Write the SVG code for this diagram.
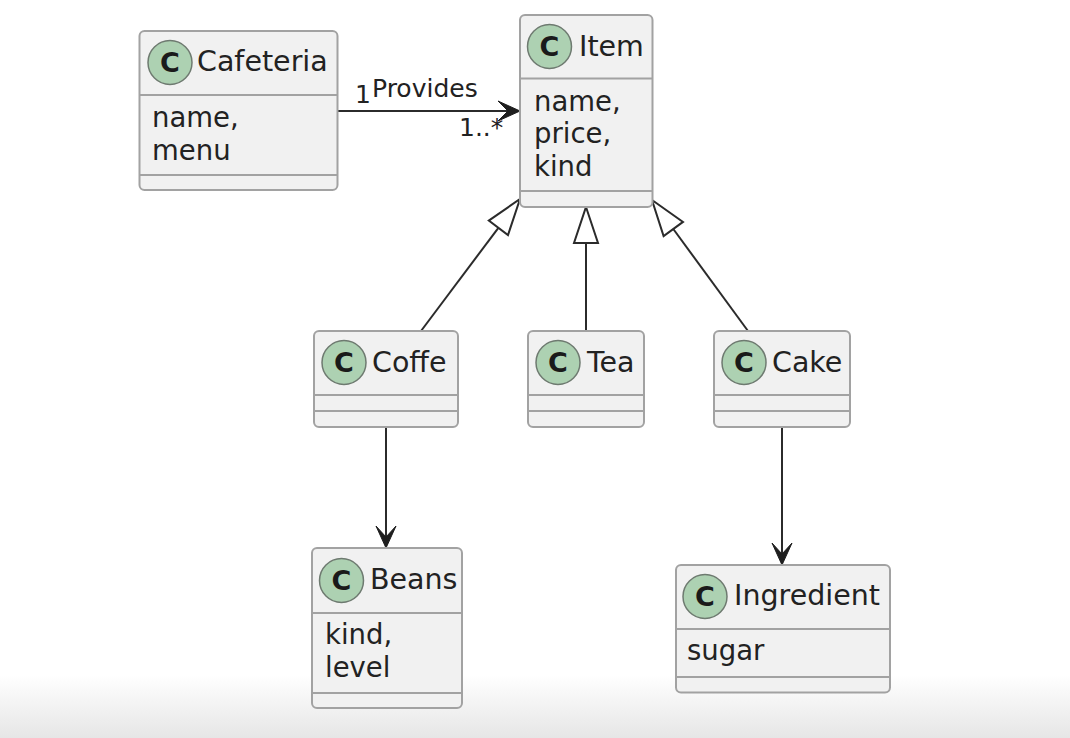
<svg xmlns="http://www.w3.org/2000/svg" width="1070" height="738" viewBox="0 0 1070 738">
<defs>
<linearGradient id="fade" x1="0" y1="0" x2="0" y2="1">
<stop offset="0" stop-color="#ffffff"/>
<stop offset="1" stop-color="#e6e6e6"/>
</linearGradient>
<style>
.box{fill:#f1f1f1;stroke:#a2a2a2;stroke-width:2}
.div{stroke:#a2a2a2;stroke-width:2}
.spot{fill:#add1b2;stroke:#6e7a70;stroke-width:1.5}
.spotc{font-family:"DejaVu Sans",sans-serif;font-size:27px;font-weight:bold;fill:#1a1a1a;text-anchor:middle}
.name{font-family:"DejaVu Sans",sans-serif;font-size:28.5px;fill:#222222}
.attr{font-family:"DejaVu Sans",sans-serif;font-size:27.5px;fill:#222222}
.lbl{font-family:"DejaVu Sans",sans-serif;font-size:25px;fill:#222222}
.edge{stroke:#2b2b2b;stroke-width:2;fill:none}
.head{fill:#1e1e1e;stroke:#1e1e1e;stroke-width:1}
.tri{fill:#ffffff;stroke:#2b2b2b;stroke-width:2}
</style>
</defs>
<rect x="0" y="0" width="1070" height="738" fill="#ffffff"/>
<rect x="0" y="675" width="1070" height="63" fill="url(#fade)"/>

<g id="connectors">
<line class="edge" x1="338" y1="111" x2="516" y2="111"/>
<polygon class="head" points="520,111 498,101 508,111 498,121"/>
<text class="lbl" x="355" y="103">1</text>
<text class="lbl" x="372" y="97">Provides</text>
<text class="lbl" x="459" y="136" font-size="23">1..*</text>

<line class="edge" x1="421" y1="331" x2="498.4" y2="227.8"/>
<polygon class="tri" points="520,199 508,235 488.8,220.6"/>
<line class="edge" x1="586" y1="331" x2="586" y2="243"/>
<polygon class="tri" points="586,207 598,243 574,243"/>
<line class="edge" x1="748" y1="331" x2="673.3" y2="229"/>
<polygon class="tri" points="652,200 683,221.9 663.6,236.1"/>

<line class="edge" x1="386" y1="427" x2="386" y2="544"/>
<polygon class="head" points="386,548 376,526 386,537 396,526"/>
<line class="edge" x1="782" y1="427" x2="782" y2="561"/>
<polygon class="head" points="782,565 772,543 782,554 792,543"/>
</g>

<g id="Cafeteria">
<rect class="box" x="139.5" y="31" width="198" height="159" rx="5"/>
<line class="div" x1="139.5" y1="95" x2="337.5" y2="95"/>
<line class="div" x1="139.5" y1="175" x2="337.5" y2="175"/>
<circle class="spot" cx="170" cy="62.5" r="22"/>
<text class="spotc" x="170" y="72">C</text>
<text class="name" x="197" y="71">Cafeteria</text>
<text class="attr" x="152" y="127">name,</text>
<text class="attr" x="152" y="160">menu</text>
</g>

<g id="Item">
<rect class="box" x="520" y="15" width="132.5" height="192" rx="5"/>
<line class="div" x1="520" y1="78.5" x2="652.5" y2="78.5"/>
<line class="div" x1="520" y1="191" x2="652.5" y2="191"/>
<circle class="spot" cx="549.5" cy="46.5" r="22"/>
<text class="spotc" x="549.5" y="56">C</text>
<text class="name" x="579" y="56">Item</text>
<text class="attr" x="534" y="111">name,</text>
<text class="attr" x="534" y="143">price,</text>
<text class="attr" x="534" y="176">kind</text>
</g>

<g id="Coffe">
<rect class="box" x="314" y="331" width="144" height="96" rx="5"/>
<line class="div" x1="314" y1="395" x2="458" y2="395"/>
<line class="div" x1="314" y1="411" x2="458" y2="411"/>
<circle class="spot" cx="344" cy="362.5" r="22"/>
<text class="spotc" x="344" y="372">C</text>
<text class="name" x="372" y="372">Coffe</text>
</g>

<g id="Tea">
<rect class="box" x="528" y="331" width="116" height="96" rx="5"/>
<line class="div" x1="528" y1="395" x2="644" y2="395"/>
<line class="div" x1="528" y1="411" x2="644" y2="411"/>
<circle class="spot" cx="558" cy="362.5" r="22"/>
<text class="spotc" x="558" y="372">C</text>
<text class="name" x="587" y="372">Tea</text>
</g>

<g id="Cake">
<rect class="box" x="714" y="331" width="136" height="96" rx="5"/>
<line class="div" x1="714" y1="395" x2="850" y2="395"/>
<line class="div" x1="714" y1="411" x2="850" y2="411"/>
<circle class="spot" cx="744" cy="362.5" r="22"/>
<text class="spotc" x="744" y="372">C</text>
<text class="name" x="772" y="372">Cake</text>
</g>

<g id="Beans">
<rect class="box" x="312" y="548" width="150" height="160" rx="5"/>
<line class="div" x1="312" y1="613" x2="462" y2="613"/>
<line class="div" x1="312" y1="693" x2="462" y2="693"/>
<circle class="spot" cx="341.5" cy="580.5" r="22"/>
<text class="spotc" x="341.5" y="590">C</text>
<text class="name" x="370" y="589">Beans</text>
<text class="attr" x="325" y="644">kind,</text>
<text class="attr" x="325" y="677">level</text>
</g>

<g id="Ingredient">
<rect class="box" x="676" y="565" width="214" height="127.5" rx="5"/>
<line class="div" x1="676" y1="629" x2="890" y2="629"/>
<line class="div" x1="676" y1="677" x2="890" y2="677"/>
<circle class="spot" cx="705" cy="596.5" r="22"/>
<text class="spotc" x="705" y="606">C</text>
<text class="name" x="734" y="605">Ingredient</text>
<text class="attr" x="687" y="660">sugar</text>
</g>
</svg>
